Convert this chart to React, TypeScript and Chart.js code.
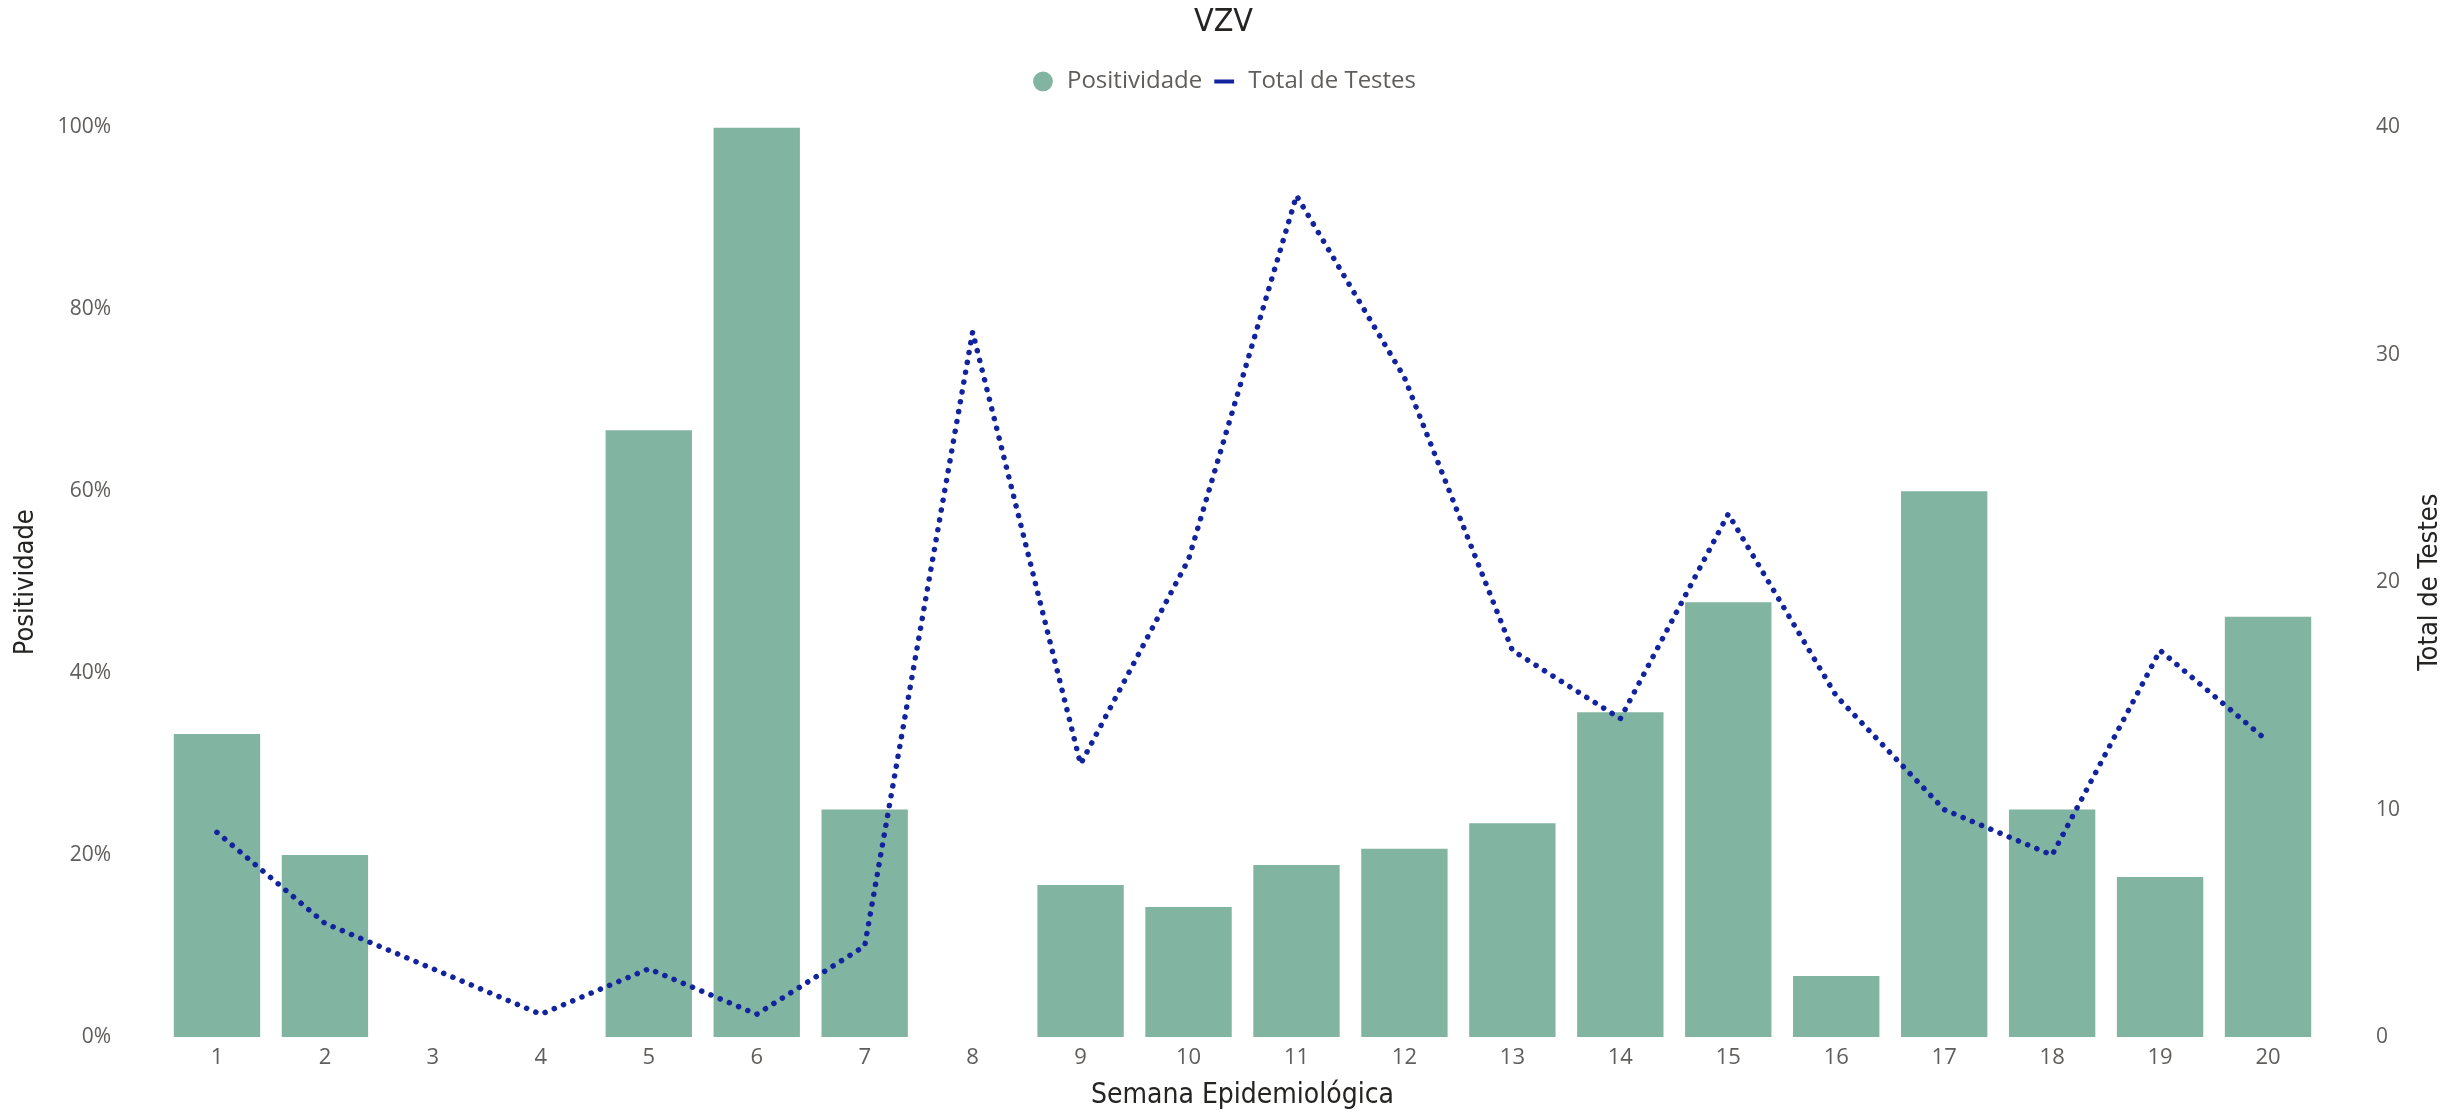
import React, { useEffect, useRef } from 'react';
import { Chart, registerables } from 'chart.js';

Chart.register(...registerables);

const chartTitle = 'VZV';
const weeks = ['1', '2', '3', '4', '5', '6', '7', '8', '9', '10', '11', '12', '13', '14', '15', '16', '17', '18', '19', '20'];
const positividade = [33.3, 20, 0, 0, 66.7, 100, 25, 0, 16.7, 14.3, 18.9, 20.7, 23.5, 35.7, 47.8, 6.7, 60, 25, 17.6, 46.2];
const totalTestes = [9, 5, 3, 1, 3, 1, 4, 31, 12, 21, 37, 29, 17, 14, 23, 15, 10, 8, 17, 13];
const seriesNames = ['Positividade', 'Total de Testes'];
const axisTitles = { x: 'Semana Epidemiológica', y: 'Positividade', y1: 'Total de Testes' };

const BAR_COLOR = '#82B4A2';
const LINE_COLOR = '#12239E';
const TICK_COLOR = '#605E5C';
const TITLE_COLOR = '#252423';
const TICK_FONT = '"Open Sans", "Noto Sans", sans-serif';
const DIN_FONT = '"DejaVu Sans Condensed", "DejaVu Sans", sans-serif';

const legendSpacer = {
  id: 'legendSpacer',
  beforeInit(chart: any) {
    const legend = chart.legend;
    if (!legend) return;
    const orig = legend.fit;
    legend.fit = function () {
      orig.call(this);
      this.height += 24;
    };
  },
};

const rightTitle = {
  id: 'rightTitle',
  afterDraw(chart: any) {
    const { ctx, chartArea } = chart;
    ctx.save();
    ctx.translate(2430, (chartArea.top + chartArea.bottom) / 2);
    ctx.rotate(-Math.PI / 2);
    ctx.fillStyle = TITLE_COLOR;
    ctx.font = `27px ${DIN_FONT}`;
    ctx.textAlign = 'center';
    ctx.textBaseline = 'middle';
    ctx.fillText(axisTitles.y1, 0, 0);
    ctx.restore();
  },
};

export default function App() {
  const ref = useRef<HTMLCanvasElement | null>(null);

  useEffect(() => {
    if (!ref.current) return;
    const chart = new Chart(ref.current, {
      type: 'bar',
      data: {
        labels: weeks,
        datasets: [
          {
            type: 'bar',
            label: seriesNames[0],
            data: positividade,
            backgroundColor: BAR_COLOR,
            borderWidth: 0,
            yAxisID: 'y',
            order: 1,
            categoryPercentage: 0.8,
            barPercentage: 1.0,
          } as any,
          {
            type: 'line',
            label: seriesNames[1],
            data: totalTestes,
            borderColor: LINE_COLOR,
            backgroundColor: LINE_COLOR,
            borderWidth: 5.5,
            borderDash: [0.1, 9.9],
            borderCapStyle: 'round',
            borderJoinStyle: 'round',
            pointRadius: 0,
            tension: 0,
            yAxisID: 'y1',
            order: 0,
          } as any,
        ],
      },
      options: {
        responsive: false,
        animation: false,
        devicePixelRatio: 1,
        layout: { padding: 0 },
        plugins: {
          tooltip: { enabled: false },
          title: {
            display: true,
            text: chartTitle,
            color: TITLE_COLOR,
            font: { family: DIN_FONT, size: 32, weight: 'normal' as any },
            padding: { top: 3, bottom: 18 },
          },
          legend: {
            display: true,
            position: 'top',
            labels: {
              usePointStyle: true,
              boxHeight: 14,
              padding: 10,
              color: TICK_COLOR,
              font: { family: TICK_FONT, size: 24 },
              sort: (a: any, b: any) => a.datasetIndex - b.datasetIndex,
              generateLabels: (chart: any) =>
                chart.data.datasets.map((ds: any, i: number) => ({
                  text: ds.label,
                  datasetIndex: i,
                  fillStyle: i === 0 ? BAR_COLOR : LINE_COLOR,
                  strokeStyle: i === 0 ? BAR_COLOR : LINE_COLOR,
                  lineWidth: i === 0 ? 0 : 4,
                  lineDash: [],
                  lineCap: 'butt',
                  pointStyle: i === 0 ? 'circle' : 'line',
                  hidden: false,
                  fontColor: TICK_COLOR,
                })),
            },
          },
        },
        scales: {
          x: {
            grid: { display: false, drawTicks: false },
            border: { display: false },
            ticks: { color: TICK_COLOR, font: { family: TICK_FONT, size: 22 }, padding: 8 },
            title: {
              display: true,
              text: axisTitles.x,
              color: TITLE_COLOR,
              font: { family: DIN_FONT, size: 28 },
              padding: { top: 1, bottom: 0 },
            },
            afterFit: (s: any) => {
              s.height = 76;
            },
          },
          y: {
            position: 'left',
            min: 0,
            max: 100,
            grid: { display: false, drawTicks: false },
            border: { display: false },
            ticks: {
              stepSize: 20,
              color: TICK_COLOR,
              font: { family: TICK_FONT, size: 21 },
              padding: 52,
              callback: (v: any) => `${v}%`,
            },
            title: {
              display: true,
              text: axisTitles.y,
              color: TITLE_COLOR,
              font: { family: DIN_FONT, size: 27 },
              padding: { top: 10, bottom: 0 },
            },
            afterFit: (s: any) => {
              s.width = 163;
            },
          },
          y1: {
            position: 'right',
            min: 0,
            max: 40,
            grid: { display: false, drawTicks: false },
            border: { display: false },
            ticks: {
              stepSize: 10,
              color: TICK_COLOR,
              font: { family: TICK_FONT, size: 21 },
              padding: 54,
            },
            afterFit: (s: any) => {
              s.width = 125;
            },
          },
        },
      },
      plugins: [legendSpacer, rightTitle],
    });
    return () => chart.destroy();
  }, []);

  return (
    <div style={{ position: 'fixed', left: 0, top: 0, width: 2447, height: 1113, background: '#fff' }}>
      <canvas ref={ref} width={2447} height={1113} style={{ display: 'block' }} />
    </div>
  );
}
